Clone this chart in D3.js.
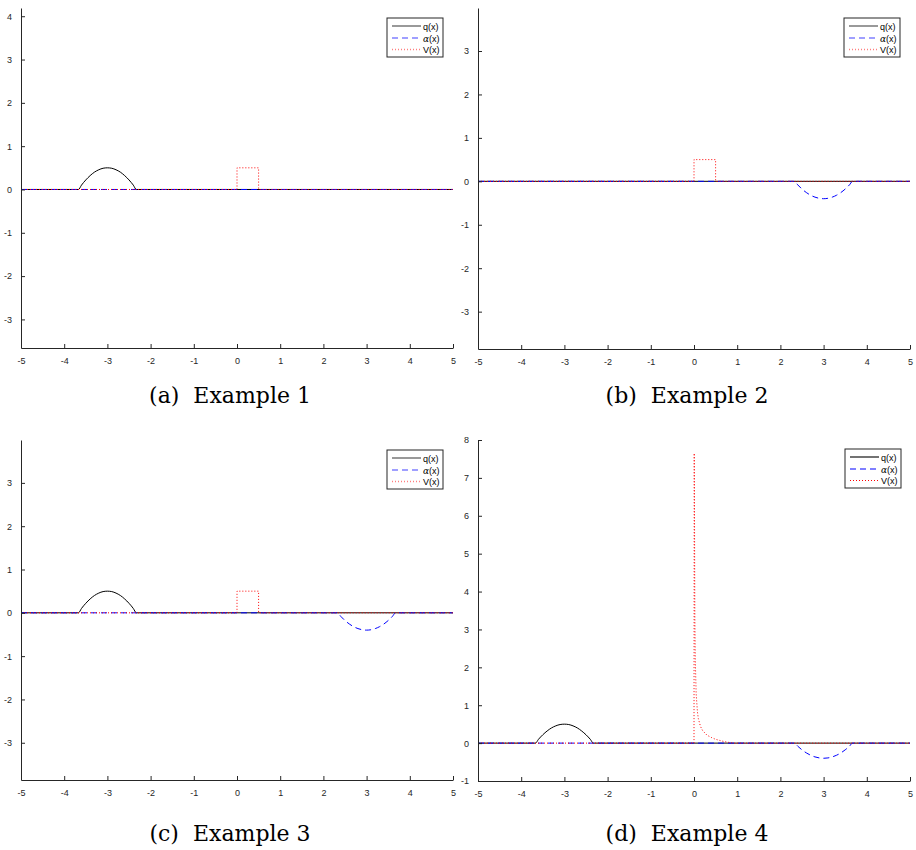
<!DOCTYPE html>
<html>
<head>
<meta charset="utf-8">
<script src="https://cdn.jsdelivr.net/npm/d3@7/dist/d3.min.js"></script>
<style>
  body { margin: 0; background: #ffffff; }
  svg { display: block; }
</style>
</head>
<body>
<div id="chart"></div>
<script>
// ---- data ----
const xTicks = [-5, -4, -3, -2, -1, 0, 1, 2, 3, 4, 5];
const yTicksA = [-3, -2, -1, 0, 1, 2, 3, 4];
const yTicksBC = [-3, -2, -1, 0, 1, 2, 3];
const yTicksD = [-1, 0, 1, 2, 3, 4, 5, 6, 7, 8];

// q(x): bump around x = -3
const qBumpX = [-5, -3.67, -3.6, -3.5, -3.4, -3.3, -3.2, -3.1, -3, -2.9, -2.8, -2.7, -2.6, -2.5, -2.4, -2.33, 5];
const qBumpY = [0, 0, 0.1, 0.22, 0.32, 0.4, 0.455, 0.49, 0.5, 0.49, 0.455, 0.4, 0.32, 0.22, 0.1, 0, 0];
const qFlatX = [-5, 5];
const qFlatY = [0, 0];

// alpha(x): dip around x = 3
const alphaDipX = [-5, 2.33, 2.4, 2.5, 2.6, 2.7, 2.8, 2.9, 3, 3.1, 3.2, 3.3, 3.4, 3.5, 3.6, 3.67, 5];
const alphaDipY = [0, 0, -0.08, -0.178, -0.258, -0.32, -0.364, -0.391, -0.4, -0.391, -0.364, -0.32, -0.258, -0.178, -0.08, 0, 0];
const alphaFlatX = [-5, 5];
const alphaFlatY = [0, 0];

// V(x): step on [0, 0.5] and spike at 0
const vStepX = [-5, 0, 0, 0.5, 0.5, 5];
const vStepY = [0, 0, 0.5, 0.5, 0, 0];
const vSpikeX = [-5, 0, 0.005, 0.01, 0.02, 0.03, 0.05, 0.08, 0.1, 0.15, 0.2, 0.3, 0.4, 0.5, 0.6, 0.7, 0.8, 0.9, 5];
const vSpikeY = [0, 0, 7.65, 6.6, 3.3, 2.2, 1.3, 0.82, 0.65, 0.44, 0.33, 0.21, 0.15, 0.1, 0.07, 0.04, 0.02, 0, 0];

const captionTags = ["(a)", "(b)", "(c)", "(d)"];
const captionNames = ["Example 1", "Example 2", "Example 3", "Example 4"];
const legendLabels = ["q", "α", "V"];

// ---- layout ----
const width = 916, height = 850;
const axisColor = "#262626";
const tickFont = "'Liberation Sans', Arial, sans-serif";
const captionFont = "'DejaVu Serif', serif";

const panels = [
  { left: 21, right: 453, top: 8, bottom: 348, yDomain: [-3.66, 4.19], yTicks: yTicksA,
    q: [qBumpX, qBumpY], a: [alphaFlatX, alphaFlatY], v: [vStepX, vStepY],
    legend: { x: 387, y: 18 }, faded: true, captionY: 403 },
  { left: 478, right: 910, top: 8, bottom: 349, yDomain: [-3.86, 3.99], yTicks: yTicksBC,
    q: [qFlatX, qFlatY], a: [alphaDipX, alphaDipY], v: [vStepX, vStepY],
    legend: { x: 844, y: 18 }, faded: true, captionY: 403 },
  { left: 21, right: 453, top: 440, bottom: 780, yDomain: [-3.86, 3.99], yTicks: yTicksBC,
    q: [qBumpX, qBumpY], a: [alphaDipX, alphaDipY], v: [vStepX, vStepY],
    legend: { x: 387, y: 450 }, faded: true, captionY: 841 },
  { left: 478, right: 910, top: 440, bottom: 781, yDomain: [-1, 8], yTicks: yTicksD,
    q: [qBumpX, qBumpY], a: [alphaDipX, alphaDipY], v: [vSpikeX, vSpikeY],
    legend: { x: 845, y: 449 }, faded: false, captionY: 841 },
];

const styles = {
  q: { color: "#000000", dash: null },
  a: { color: "#0000ff", dash: "6,4" },
  v: { color: "#ff0000", dash: "1,2" },
};

const svg = d3.select("#chart").append("svg")
  .attr("width", width)
  .attr("height", height);

panels.forEach((p, i) => drawPanel(p, i));

function drawPanel(p, i) {
  const g = svg.append("g").attr("class", "panel");

  const x = d3.scaleLinear().domain([-5, 5]).range([p.left, p.right]);
  const y = d3.scaleLinear().domain(p.yDomain).range([p.bottom, p.top]);

  const clipId = `clip-${i}`;
  g.append("clipPath").attr("id", clipId)
    .append("rect")
    .attr("x", p.left).attr("y", p.top - 1)
    .attr("width", p.right - p.left + 1)
    .attr("height", p.bottom - p.top + 1);

  // curves: q, then alpha, then V on top (same order as the original plot)
  const plotG = g.append("g").attr("clip-path", `url(#${clipId})`);
  ["q", "a", "v"].forEach((key) => {
    const [xs, ys] = p[key];
    const pts = xs.map((xv, j) => [xv, ys[j]]);
    const line = d3.line()
      .x((d) => x(d[0]))
      .y((d) => y(d[1]))
      .curve(key === "v" ? d3.curveLinear : d3.curveMonotoneX);
    plotG.append("path")
      .datum(pts)
      .attr("d", line)
      .attr("fill", "none")
      .attr("stroke", styles[key].color)
      .attr("stroke-width", 1)
      .attr("stroke-dasharray", styles[key].dash);
  });

  // x axis (ticks pointing inward)
  const xAxis = d3.axisBottom(x).tickValues(xTicks).tickSizeInner(-4).tickSizeOuter(0)
    .tickPadding(10).tickFormat(d3.format("d"));
  const xg = g.append("g").attr("transform", `translate(0,${p.bottom})`).call(xAxis);

  // y axis
  const yAxis = d3.axisLeft(y).tickValues(p.yTicks).tickSizeInner(-4).tickSizeOuter(0)
    .tickPadding(9).tickFormat(d3.format("d"));
  const yg = g.append("g").attr("transform", `translate(${p.left},0)`).call(yAxis);

  [xg, yg].forEach((ag) => {
    ag.select(".domain").attr("stroke", axisColor).attr("stroke-width", 1);
    ag.selectAll(".tick line").attr("stroke", axisColor).attr("stroke-width", 1);
    ag.selectAll(".tick text")
      .attr("fill", axisColor)
      .style("font-family", tickFont)
      .style("font-size", "9px")
      .text((d) => (d < 0 ? "-" + Math.abs(d) : d));
  });

  drawLegend(g, p);

  // caption
  const cx = (p.left + p.right) / 2 - 7;
  const cap = g.append("text")
    .attr("x", cx)
    .attr("y", p.captionY)
    .attr("text-anchor", "middle")
    .style("font-family", captionFont)
    .style("font-size", "22px")
    .attr("fill", "#000");
  cap.append("tspan").text(captionTags[i]);
  cap.append("tspan").attr("dx", 14).text(captionNames[i]);
}

function drawLegend(g, p) {
  const lw = 56, lh = 39;
  const lg = g.append("g").attr("transform", `translate(${p.legend.x},${p.legend.y})`);
  lg.append("rect")
    .attr("width", lw).attr("height", lh)
    .attr("fill", "#ffffff")
    .attr("stroke", axisColor)
    .attr("stroke-width", 1);

  const keys = ["q", "a", "v"];
  const rowY = [8, 20, 31.5];
  keys.forEach((key, k) => {
    lg.append("line")
      .attr("x1", 5).attr("x2", 34)
      .attr("y1", rowY[k]).attr("y2", rowY[k])
      .attr("stroke", styles[key].color)
      .attr("stroke-width", p.faded ? 1.6 : 1.1)
      .attr("stroke-opacity", p.faded ? 0.5 : 1)
      .attr("stroke-dasharray", styles[key].dash);
    const t = lg.append("text")
      .attr("x", 36)
      .attr("y", rowY[k] + 3.5)
      .style("font-family", tickFont)
      .style("font-size", "9px")
      .attr("fill", "#000");
    if (key === "a") {
      t.append("tspan")
        .style("font-family", "'DejaVu Serif', serif")
        .style("font-style", "italic")
        .text(legendLabels[k]);
    } else {
      t.append("tspan").text(legendLabels[k]);
    }
    t.append("tspan").text("(x)");
  });
}
</script>
</body>
</html>
